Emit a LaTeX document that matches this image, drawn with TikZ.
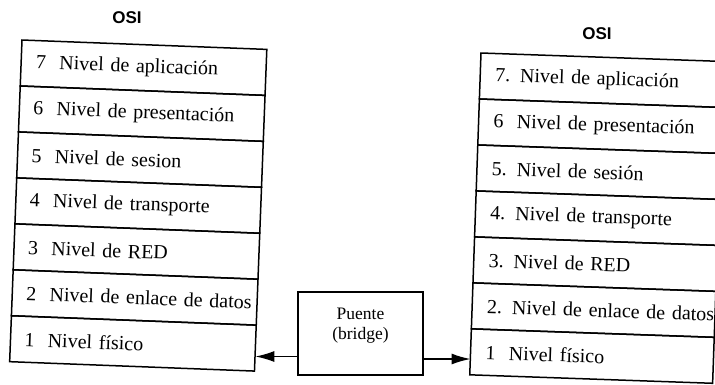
\documentclass[tikz,border=0pt]{standalone}
\usepackage{fontspec}
\setmainfont{Liberation Serif}
\newfontfamily\osifont{Liberation Sans}
\usetikzlibrary{arrows.meta}
\tikzset{
  layer/.style={draw, line width=1.5pt, rectangle, anchor=north west, inner sep=0pt, outer sep=0pt,
    minimum height=46pt, align=left,
    font=\fontsize{20}{22}\selectfont},
  bridgebox/.style={draw, line width=1.5pt, rectangle, minimum width=125pt, minimum height=83pt,
    inner sep=0pt, outer sep=0pt, align=center, font=\fontsize{17.5}{20}\selectfont},
  osilabel/.style={font=\osifont\bfseries\fontsize{17}{19}\selectfont},
  conn/.style={line width=1.5pt, -{Latex[length=19pt,width=11pt]}}
}
\begin{document}
\begin{tikzpicture}[x=1pt,y=-1pt]
\useasboundingbox[fill=white] (0,0) rectangle (715,384);

\node[osilabel] (osiL) at (127,18) {OSI};
\node[osilabel] (osiR) at (597,34) {OSI};

% left stack
\begin{scope}[shift={(22,40)}, rotate=-2.2, transform shape]
  \tikzset{every node/.append style={minimum width=245pt, text width=245pt}}
  \node[layer] (L7) at (0,0) {\hspace*{15pt}7\ \ Nivel de aplicación};
  \node[layer] (L6) at (L7.south west) {\hspace*{14pt}6\ \ Nivel de presentación};
  \node[layer] (L5) at (L6.south west) {\hspace*{14pt}5\ \ Nivel de sesion};
  \node[layer] (L4) at (L5.south west) {\hspace*{14pt}4\ \ Nivel de transporte};
  \node[layer] (L3) at (L4.south west) {\hspace*{14pt}3\ \ Nivel de RED};
  \node[layer] (L2) at (L3.south west) {\hspace*{14pt}2\ \ Nivel de enlace de datos};
  \node[layer] (L1) at (L2.south west) {\hspace*{14pt}1\ \ Nivel físico};
\end{scope}

% right stack
\begin{scope}[shift={(481,53)}, rotate=-2, transform shape]
  \tikzset{every node/.append style={minimum width=243pt, text width=243pt, minimum height=46.5pt}}
  \node[layer] (R7) at (0,0) {\hspace*{15pt}7. Nivel de aplicación};
  \node[layer] (R6) at (R7.south west) {\hspace*{15pt}6\ \ Nivel de presentación};
  \node[layer] (R5) at (R6.south west) {\hspace*{15pt}5. Nivel de sesión};
  \node[layer] (R4) at (R5.south west) {\hspace*{15pt}4. Nivel de transporte};
  \node[layer] (R3) at (R4.south west) {\hspace*{15pt}3. Nivel de RED};
  \node[layer] (R2) at (R3.south west) {\hspace*{15pt}2. Nivel de enlace de datos};
  \node[layer] (R1) at (R2.south west) {\hspace*{15pt}1\ \ Nivel físico};
\end{scope}

% bridge
\node[bridgebox] (B) at (360.5,333.5) {Puente\\(bridge)\\\mbox{}};
\coordinate (bl) at ([yshift=-23pt]B.west);
\coordinate (br) at ([yshift=-25.5pt]B.east);
\draw[conn] (bl) -- (bl -| L1.east);
\draw[conn] (br) -- (br -| R1.west);
\end{tikzpicture}
\end{document}
